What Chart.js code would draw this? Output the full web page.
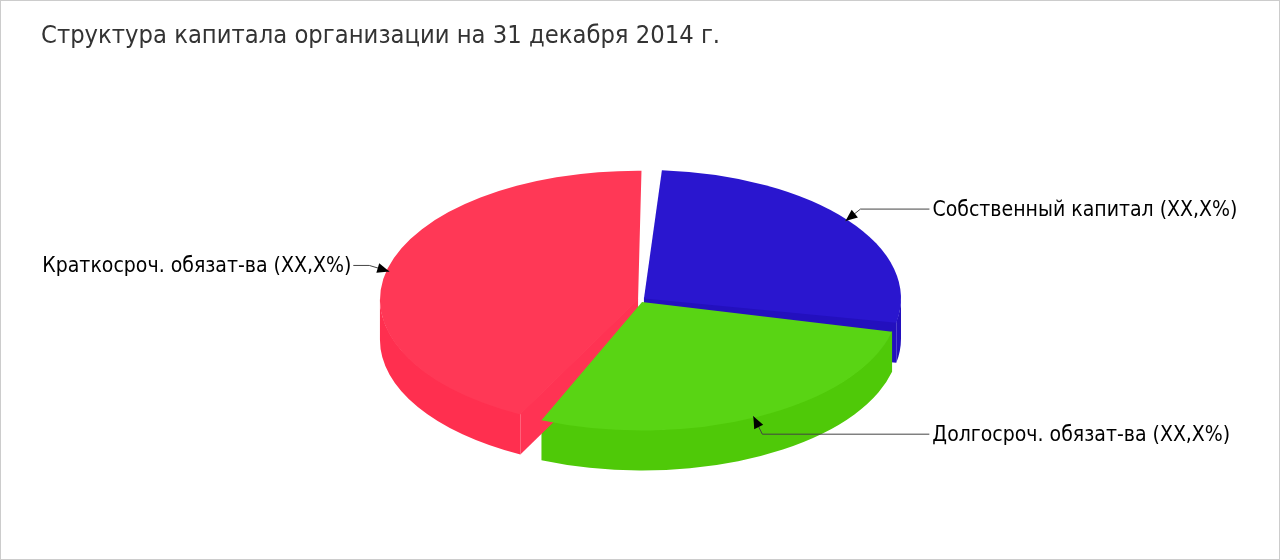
<!DOCTYPE html>
<html><head><meta charset="utf-8">
<style>html,body{margin:0;padding:0;background:#fff}#w{position:relative;width:1280px;height:560px}</style>
<script src="https://cdn.jsdelivr.net/npm/chart.js@4"></script>
</head><body><div id="w"><canvas id="c" width="1280" height="560"></canvas></div>
<script>
const TITLE = 'Структура капитала организации на 31 декабря 2014 г.';
const categories = ['Собственный капитал (XX,X%)', 'Долгосроч. обязат-ва (XX,X%)', 'Краткосроч. обязат-ва (XX,X%)'];
const shares = [27.67, 28.63, 43.7];
const topColors = ['#2A16CF', '#59D414', '#FF3856'];
const wallColors = ['#2310BE', '#4FC908', '#FF2F4F'];
const faceColors = ['#2310BE', '#4FC908', '#FF3353'];
const explode = [20, 18, 8];
const trimDegrees = [[1.6, 1.06], [1.4, 2.05], [2.05, 1.6]];
const anchorFractions = [0.5, 0.508, 0.4925];
const FONT = '"DejaVu Sans Condensed","Noto Sans"';
const TITLE_SIZE = 25.3, LABEL_SIZE = 21.05;
const SQUASH = 0.5, DEPTH = 40, RAD = Math.PI / 180;
// leader geometry relative to the anchor on each slice's rim
const leaders = [
  {elbow: [15, -12], end: [84, -12], side: 'right'},
  {elbow: [9, 18], end: [176, 18], side: 'right'},
  {elbow: [-20, -6], end: [-36, -6], side: 'left'}
];
const geom = (arc, cy) => {
  const off = (arc.options.offset || 0) / 4;
  const half = (arc.startAngle + arc.endAngle) / 2;
  const fix = 1 - Math.sin(Math.min(Math.PI, arc.circumference));
  return {
    x: arc.x + Math.cos(half) * off,
    y: cy + (arc.y + Math.sin(half) * off - cy) * SQUASH,
    r: arc.outerRadius + off * fix, half
  };
};
const pie3d = {
  id: 'pie3d',
  afterDatasetsUpdate(chart) {
    chart.getDatasetMeta(0).data.forEach((a, i) => {
      const [s, e] = trimDegrees[i];
      a.startAngle += s * RAD; a.endAngle -= e * RAD; a.circumference -= (s + e) * RAD;
    });
  },
  beforeDatasetsDraw(chart) {
    const ctx = chart.ctx, arcs = chart.getDatasetMeta(0).data;
    const cy = arcs[0].y;
    arcs.forEach((a, i) => {
      const g = geom(a, cy);
      const ry = g.r * SQUASH;
      // radial face of the slice which looks towards the viewer
      const faceAngle = i === 0 ? a.endAngle : i === 2 ? a.startAngle : null;
      if (faceAngle !== null) {
        const px = g.x + Math.cos(faceAngle) * g.r, py = g.y + Math.sin(faceAngle) * ry;
        ctx.fillStyle = faceColors[i];
        ctx.beginPath();
        ctx.moveTo(g.x, g.y - 1); ctx.lineTo(px, py - 1); ctx.lineTo(px, py + DEPTH); ctx.lineTo(g.x, g.y + DEPTH);
        ctx.closePath(); ctx.fill();
      }
      // outer wall: only the part of the rim on the front half
      const norm = v => { let n = v % (2 * Math.PI); if (n < 0) n += 2 * Math.PI; return n; };
      const s = norm(a.startAngle), span = a.endAngle - a.startAngle;
      let from = s, to = s + span;
      if (from > Math.PI) { if (to > 2 * Math.PI) from = 2 * Math.PI; else return; }
      to = Math.min(to, from >= 2 * Math.PI ? to : Math.PI);
      ctx.fillStyle = wallColors[i];
      ctx.beginPath();
      ctx.ellipse(g.x, g.y - 1, g.r, ry, 0, from, to);
      ctx.ellipse(g.x, g.y + DEPTH, g.r, ry, 0, to, from, true);
      ctx.closePath(); ctx.fill();
    });
    ctx.save();
    ctx.translate(0, cy); ctx.scale(1, SQUASH); ctx.translate(0, -cy);
  },
  afterDatasetsDraw(chart) {
    const ctx = chart.ctx; ctx.restore();
    const arcs = chart.getDatasetMeta(0).data, cy = arcs[0].y;
    arcs.forEach((a, i) => {
      const g = geom(a, cy), L = leaders[i];
      const anchor = a.startAngle + (a.endAngle - a.startAngle) * anchorFractions[i];
      const tx = g.x + Math.cos(anchor) * (g.r - 3), ty = g.y + Math.sin(anchor) * (g.r - 3) * SQUASH;
      const ex = tx + L.elbow[0], ey = ty + L.elbow[1];
      const fx = tx + L.end[0], fy = ty + L.end[1];
      ctx.strokeStyle = '#444'; ctx.lineWidth = 1;
      ctx.beginPath(); ctx.moveTo(tx, ty); ctx.lineTo(ex, ey); ctx.lineTo(fx, fy); ctx.stroke();
      const ang = Math.atan2(ey - ty, ex - tx);
      ctx.fillStyle = '#000'; ctx.save(); ctx.translate(tx, ty); ctx.rotate(ang);
      ctx.beginPath(); ctx.moveTo(0, 0); ctx.lineTo(12, -5); ctx.lineTo(12, 5); ctx.closePath(); ctx.fill(); ctx.restore();
      ctx.fillStyle = '#000'; ctx.font = LABEL_SIZE + 'px ' + FONT; ctx.textBaseline = 'alphabetic';
      ctx.textAlign = L.side === 'right' ? 'left' : 'right';
      ctx.fillText(categories[i], fx + (L.side === 'right' ? 3 : -2), fy + 7);
    });
    ctx.strokeStyle = '#ccc'; ctx.lineWidth = 1; ctx.strokeRect(0.5, 0.5, 1279, 559);
  }
};
new Chart(document.getElementById('c'), {
  type: 'pie',
  plugins: [pie3d],
  data: { labels: categories, datasets: [{
    data: shares, backgroundColor: topColors, borderWidth: 0, offset: explode, clip: false
  }]},
  options: {
    responsive: false, animation: false, events: [],
    rotation: 2.4, radius: 257,
    layout: { padding: { left: 41, right: 41, top: 0, bottom: 11.2 } },
    plugins: {
      legend: { display: false }, tooltip: { enabled: false },
      title: { display: true, text: TITLE, align: 'start', color: '#333',
        font: { family: FONT, size: TITLE_SIZE, weight: 'normal', lineHeight: 1.2 },
        padding: { top: 20.8, bottom: 0 } }
    }
  }
});
</script></body></html>
